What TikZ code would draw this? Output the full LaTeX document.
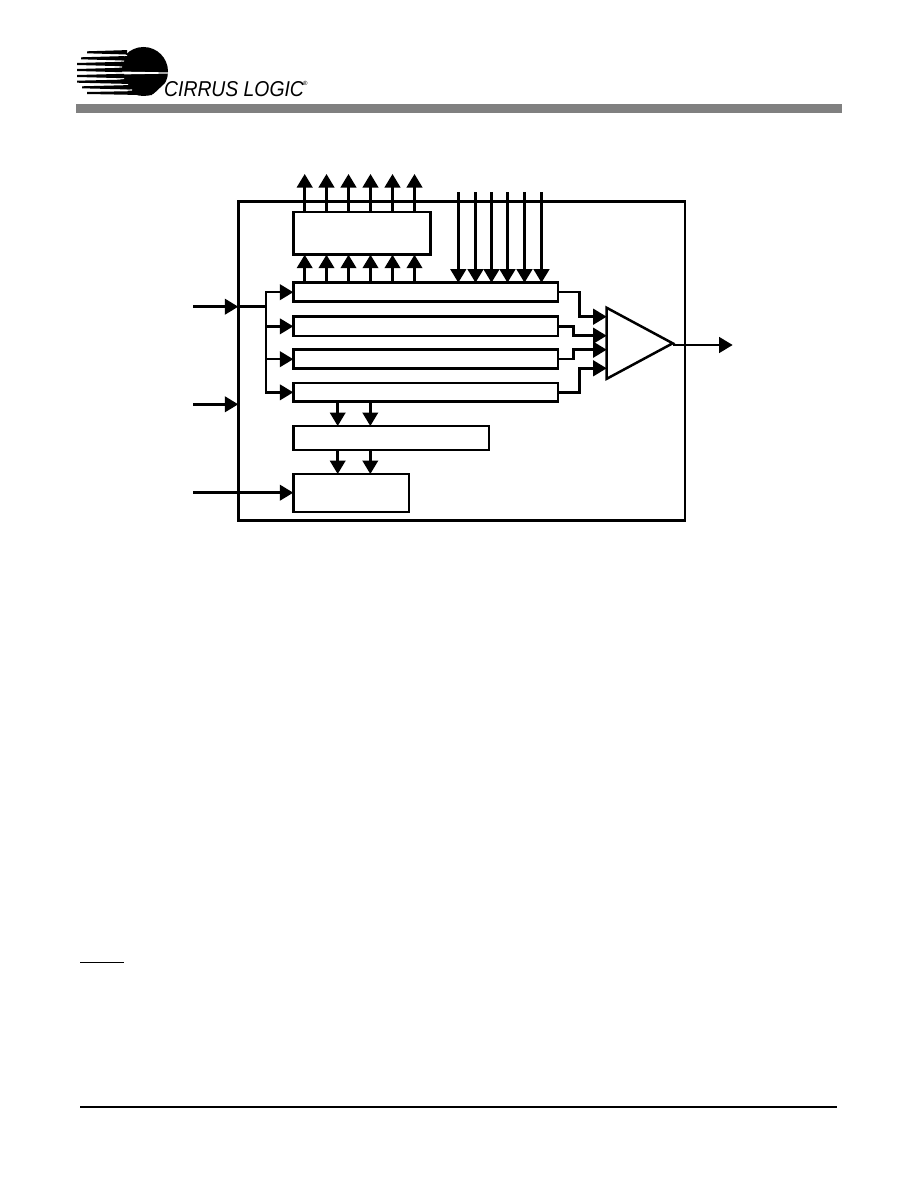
\documentclass[tikz,border=0pt]{standalone}
\usepackage{fontspec}
\setmainfont{Liberation Sans}
\usetikzlibrary{arrows.meta,shapes.geometric}
\tikzset{
  box/.style={draw=black,line width=2.5pt,inner sep=0pt,outer sep=0pt,anchor=north west},
  conn/.style={draw=black,line width=2.5pt},
  arr/.style={conn,-{Triangle[length=13.5pt,width=15.5pt]}},
  rule/.style={draw=black,line width=2.2pt}
}
\definecolor{barGray}{HTML}{808080}
\newcommand{\mkbox}[5]{\node[box,minimum width=#4pt,minimum height=#5pt] (#1) at (#2,#3) {};}
\begin{document}
\begin{tikzpicture}[x=1pt,y=-1pt]
\useasboundingbox (0,0) rectangle (918,1188);
% logo
\fill (143.5,71.5) circle (24.5);
\foreach \y/\xe in {55.3/127,61/124,67/122,73/172,78.7/124,84.5/128,90/132}
  \fill[white] (74,\y-2.3) -- (\xe,\y-0.5) -- (\xe,\y+0.5) -- (74,\y+2.3) -- cycle;
\foreach \y/\xs/\xe in {52.3/87/127,58.3/81/124,64/77/122,70/77/122,76/77/124,81.7/77/128,87.3/82/130,93/87/152}
  \fill (\xs,\y-1) -- (\xe,\y-2.2) -- (\xe,\y+2.2) -- (\xs,\y+1) -- cycle;
\fill[white] (171,78.5) -- (171,100) -- (150,100) -- (152,95.5) -- (168,80.5) -- cycle;
\node[inner sep=0pt,anchor=base west,xscale=0.9,transform shape,font=\fontsize{21.5}{21.5}\selectfont\itshape] (logotext) at (164,96.5) {CIRRUS LOGIC};
\node[inner sep=0pt,anchor=north west,font=\fontsize{6}{6}\selectfont] (logoreg) at (303,81) {®};
\fill[barGray] (76,104) rectangle (842,112.7);
\draw[rule] (80,1106.7) -- (837,1106.7);
\draw[draw=black,line width=1.6pt] (80,962.3) -- (124,962.3);
% blocks
\mkbox{outer}{238.3}{201.7}{446.7}{319}
\mkbox{top}{293.3}{212}{137.4}{42.7}
\mkbox{barA}{293.3}{282.7}{264.7}{19}
\mkbox{barB}{293.3}{316.7}{264.7}{19.3}
\mkbox{barC}{293.3}{349.7}{264.7}{19}
\mkbox{barD}{293.3}{383}{264.7}{18.7}
\mkbox{mid}{293.3}{426}{195.7}{24}
\mkbox{low}{293.3}{474}{115.7}{38}
\node[draw=black,line width=2.5pt,inner sep=0pt,outer sep=0pt,isosceles triangle,isosceles triangle stretches,minimum width=71pt,minimum height=66pt,anchor=apex] (amp) at (672.7,343.3) {};
% coordinates
\foreach \i/\x in {1/304.7,2/326.5,3/348.5,4/370.5,5/392.5,6/414.5}
  {\coordinate (up\i) at (\x,174);
   \draw[arr] (up\i |- barA.north) -- (up\i |- top.south);
   \draw[arr] (up\i |- top.north) -- (up\i);}
\foreach \i/\x in {1/458.3,2/475.5,3/491.5,4/507.5,5/524.5,6/541.5}
  {\coordinate (dn\i) at (\x,192);
   \draw[arr] (dn\i) -- (dn\i |- barA.north);}
\coordinate (inA) at (193,306.7);
\coordinate (inB) at (193,404.3);
\coordinate (inC) at (193,492.7);
\coordinate (bus) at (266,306.7);
\draw[arr] (inA) -- (inA -| outer.west);
\draw[conn] (inA -| outer.west) -- (bus);
\draw[arr] (inB) -- (inB -| outer.west);
\draw[arr] (inC) -- (inC -| low.west);
\draw[conn,line cap=rect] (bus |- barA.west) -- (bus |- barD.west);
\foreach \b in {barA,barB,barC,barD}
  \draw[arr] (bus |- \b.west) -- (\b.west);
\foreach \i/\x in {1/337.7,2/370.3}
  {\coordinate (v\i) at (\x,400);
   \draw[arr] (v\i |- barD.south) -- (v\i |- mid.north);
   \draw[arr] (v\i |- mid.south) -- (v\i |- low.north);}
\coordinate (ampIn1) at (606.7,316.7);
\coordinate (ampIn2) at (606.7,335.7);
\coordinate (ampIn3) at (606.7,349.7);
\coordinate (ampIn4) at (606.7,368.3);
\coordinate (jogO) at (579.3,345);
\coordinate (jogI) at (573.7,345);
\draw[arr] (barA.east) -| (jogO |- ampIn1) -- (ampIn1);
\draw[arr] (barB.east) -| (jogI |- ampIn2) -- (ampIn2);
\draw[arr] (barC.east) -| (jogI |- ampIn3) -- (ampIn3);
\draw[arr] (barD.east) -| (jogO |- ampIn4) -- (ampIn4);
\coordinate (out) at (732.7,345);
\draw[arr] (out -| amp.apex) -- (out);
\end{tikzpicture}
\end{document}
